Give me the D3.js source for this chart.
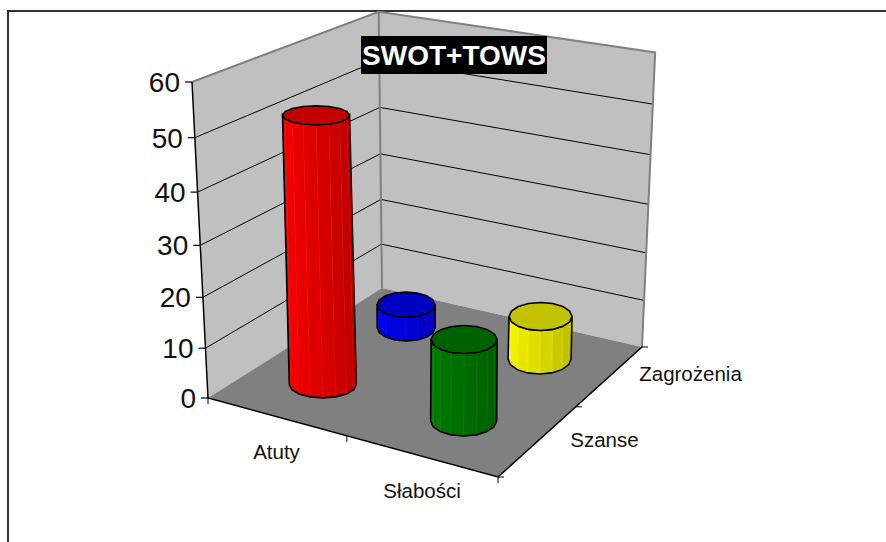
<!DOCTYPE html>
<html>
<head>
<meta charset="utf-8">
<script src="https://cdn.jsdelivr.net/npm/d3@7"></script>
<style>
  html, body { margin: 0; padding: 0; background: #fff; }
  svg { display: block; }
  text { font-family: "Liberation Sans", Arial, sans-serif; }
</style>
</head>
<body>
<div id="chart"></div>
<script>
const categories = ["Atuty", "Słabości"];
const seriesNames = ["Szanse", "Zagrożenia"];
const szanseValues = [52.5, 16];
const zagrozeniaValues = [5, 9];
const valueTicks = [0, 10, 20, 30, 40, 50, 60];
const sideColors = [["#ff0000", "#008000"], ["#0000ff", "#ffff00"]];

const W = 886, H = 542;
const svg = d3.select("#chart").append("svg").attr("width", W).attr("height", H);

// scales go to the unit cube, then project() puts the cube on the page
const x = d3.scaleBand().domain(categories).range([0, 1]);
const depth = d3.scaleBand().domain(seriesNames).range([0, 1]);
const v = d3.scaleLinear().domain([0, 60]).range([0, 1]);

// corners of the box as seen on the page
const O = [208, 398], X = [498, 477], Y = [382, 288], XY = [642, 347], Z = [192, 82], YZ = [379, 12.5];

// perspective: p = (A x + B y + C z + O) / (g x + h y + i z + 1)
const dx1 = X[0] - XY[0], dx2 = Y[0] - XY[0], sx = O[0] - X[0] + XY[0] - Y[0];
const dy1 = X[1] - XY[1], dy2 = Y[1] - XY[1], sy = O[1] - X[1] + XY[1] - Y[1];
const det = dx1 * dy2 - dx2 * dy1;
const g = (sx * dy2 - dx2 * sy) / det;
const h = (dx1 * sy - sx * dy1) / det;
const A = [X[0] * (g + 1) - O[0], X[1] * (g + 1) - O[1]];
const B = [Y[0] * (h + 1) - O[0], Y[1] * (h + 1) - O[1]];
const rhs = [YZ[0] * h - B[0], YZ[1] * h - B[1]];
const lhs = [Z[0] - YZ[0], Z[1] - YZ[1]];
const k = (rhs[0] * lhs[0] + rhs[1] * lhs[1]) / (lhs[0] * lhs[0] + lhs[1] * lhs[1]); // k = i + 1
const i3 = k - 1;
const C = [Z[0] * k - O[0], Z[1] * k - O[1]];

function project(px, py, pz) {
  const w = g * px + h * py + i3 * pz + 1;
  return [(A[0] * px + B[0] * py + C[0] * pz + O[0]) / w,
          (A[1] * px + B[1] * py + C[1] * pz + O[1]) / w];
}
const line = d3.line();
const poly = pts => line(pts) + "Z";

// outer frame: only left and top lines show
svg.append("path").attr("d", `M8,${H}V11H${W}`).attr("fill", "none").attr("stroke", "#333").attr("stroke-width", 2);

// walls and floor
const wallColor = "#c0c0c0", edgeGray = "#808080";
svg.append("path").attr("d", poly([project(0,0,0), project(0,1,0), project(0,1,1), project(0,0,1)])).attr("fill", wallColor);
svg.append("path").attr("d", poly([project(0,1,0), project(1,1,0), project(1,1,1), project(0,1,1)])).attr("fill", wallColor);
svg.append("path").attr("d", poly([project(0,0,0), project(1,0,0), project(1,1,0), project(0,1,0)])).attr("fill", edgeGray);

// gridlines go along both walls
valueTicks.slice(1, -1).forEach(t => {
  const z = v(t);
  svg.append("path").attr("d", line([project(0,0,z), project(0,1,z), project(1,1,z)]))
    .attr("fill", "none").attr("stroke", "#000").attr("stroke-width", 1);
});

// gray wall edges
svg.append("path").attr("d", line([project(0,0,1), project(0,1,1), project(1,1,1), project(1,1,0)]))
  .attr("fill", "none").attr("stroke", edgeGray).attr("stroke-width", 2);
svg.append("path").attr("d", line([project(0,1,1), project(0,1,0)]))
  .attr("fill", "none").attr("stroke", edgeGray).attr("stroke-width", 2);

// axes: black front edges
svg.append("path").attr("d", line([project(0,0,1), project(0,0,0), project(1,0,0), project(1,1,0)]))
  .attr("fill", "none").attr("stroke", "#000").attr("stroke-width", 1.5);

// value axis ticks and labels
valueTicks.forEach(t => {
  const p = project(0, 0, v(t));
  svg.append("path").attr("d", `M${p[0] - 7},${p[1]}H${p[0]}`).attr("stroke", "#000").attr("stroke-width", 1.2);
  svg.append("text").attr("x", p[0] - 12).attr("y", p[1] + 10).attr("text-anchor", "end")
    .attr("font-size", 28).attr("fill", "#111").text(t);
});

// category ticks and labels
[0, 0.5, 1].forEach(t => {
  const p = project(t, 0, 0);
  svg.append("path").attr("d", `M${p[0]},${p[1]}v6`).attr("stroke", "#000").attr("stroke-width", 1);
});
[0, 0.5, 1].forEach(t => {
  const p = project(1, t, 0);
  svg.append("path").attr("d", `M${p[0]},${p[1]}h6`).attr("stroke", "#000").attr("stroke-width", 1);
});
const catLabelPos = [[276.5, 459], [422, 498]];
categories.forEach((c, n) => {
  svg.append("text").attr("x", catLabelPos[n][0]).attr("y", catLabelPos[n][1]).attr("text-anchor", "middle")
    .attr("font-size", 20.5).attr("fill", "#111").text(c);
});
const seriesLabelPos = [[604.5, 447], [690.5, 381]];
seriesNames.forEach((c, n) => {
  svg.append("text").attr("x", seriesLabelPos[n][0]).attr("y", seriesLabelPos[n][1]).attr("text-anchor", "middle")
    .attr("font-size", 20.5).attr("fill", "#111").text(c);
});

// cylinders, back row first. Ellipses stay level on the page like in the original.
const SIDES = 16;
const radiusX = [[33.5, 33], [29, 31.5]];
const radiusTop = [[9.5, 14], [12.5, 14]];
const radiusBase = [[13.4, 15], [13.5, 15]];
const tops = [szanseValues, zagrozeniaValues];
const scaleColor = (c, f) => { const r = d3.rgb(c); return d3.rgb(r.r * f, r.g * f, r.b * f); };

[1, 0].forEach(s => {
  categories.forEach((c, n) => {
    const cx = x(c) + x.bandwidth() / 2, cy = depth(seriesNames[s]) + depth.bandwidth() / 2;
    const baseC = project(cx, cy, 0), topC = project(cx, cy, v(tops[s][n]));
    const angles = d3.range(SIDES + 1).map(a => a / SIDES * 2 * Math.PI);
    const rim = (ctr, ry, t) => [ctr[0] + radiusX[s][n] * Math.cos(t), ctr[1] + ry * Math.sin(t)];
    const base = sideColors[s][n];
    const shade = d3.scaleLinear().domain([Math.PI, 0]).range([0, 1]);
    const cyl = svg.append("g");

    // front half: angles 0..PI run right to left along the lower rim
    const front = angles.filter(t => t <= Math.PI + 1e-6);
    front.slice(0, -1).forEach((t, a) => {
      const t2 = front[a + 1];
      const col = d3.interpolateRgb(base, scaleColor(base, 0.7))(shade((t + t2) / 2));
      cyl.append("path")
        .attr("d", poly([rim(baseC, radiusBase[s][n], t), rim(baseC, radiusBase[s][n], t2), rim(topC, radiusTop[s][n], t2), rim(topC, radiusTop[s][n], t)]))
        .attr("fill", col).attr("stroke", d3.color(col).brighter(0.3)).attr("stroke-width", 0.5);
    });
    const outline = front.map(t => rim(baseC, radiusBase[s][n], t))
      .concat(front.slice().reverse().map(t => rim(topC, radiusTop[s][n], t)));
    cyl.append("path").attr("d", poly(outline)).attr("fill", "none").attr("stroke", "#000").attr("stroke-width", 1.6);
    cyl.append("path").attr("d", poly(angles.slice(0, -1).map(t => rim(topC, radiusTop[s][n], t))))
      .attr("fill", scaleColor(base, 0.76)).attr("stroke", "#000").attr("stroke-width", 1.6);
  });
});

// title box
svg.append("rect").attr("x", 361).attr("y", 36).attr("width", 186).attr("height", 38).attr("fill", "#000");
svg.append("text").attr("x", 454).attr("y", 64.5).attr("text-anchor", "middle").attr("font-size", 28)
  .attr("font-weight", "bold").attr("fill", "#fff").text("SWOT+TOWS");
</script>
</body>
</html>
